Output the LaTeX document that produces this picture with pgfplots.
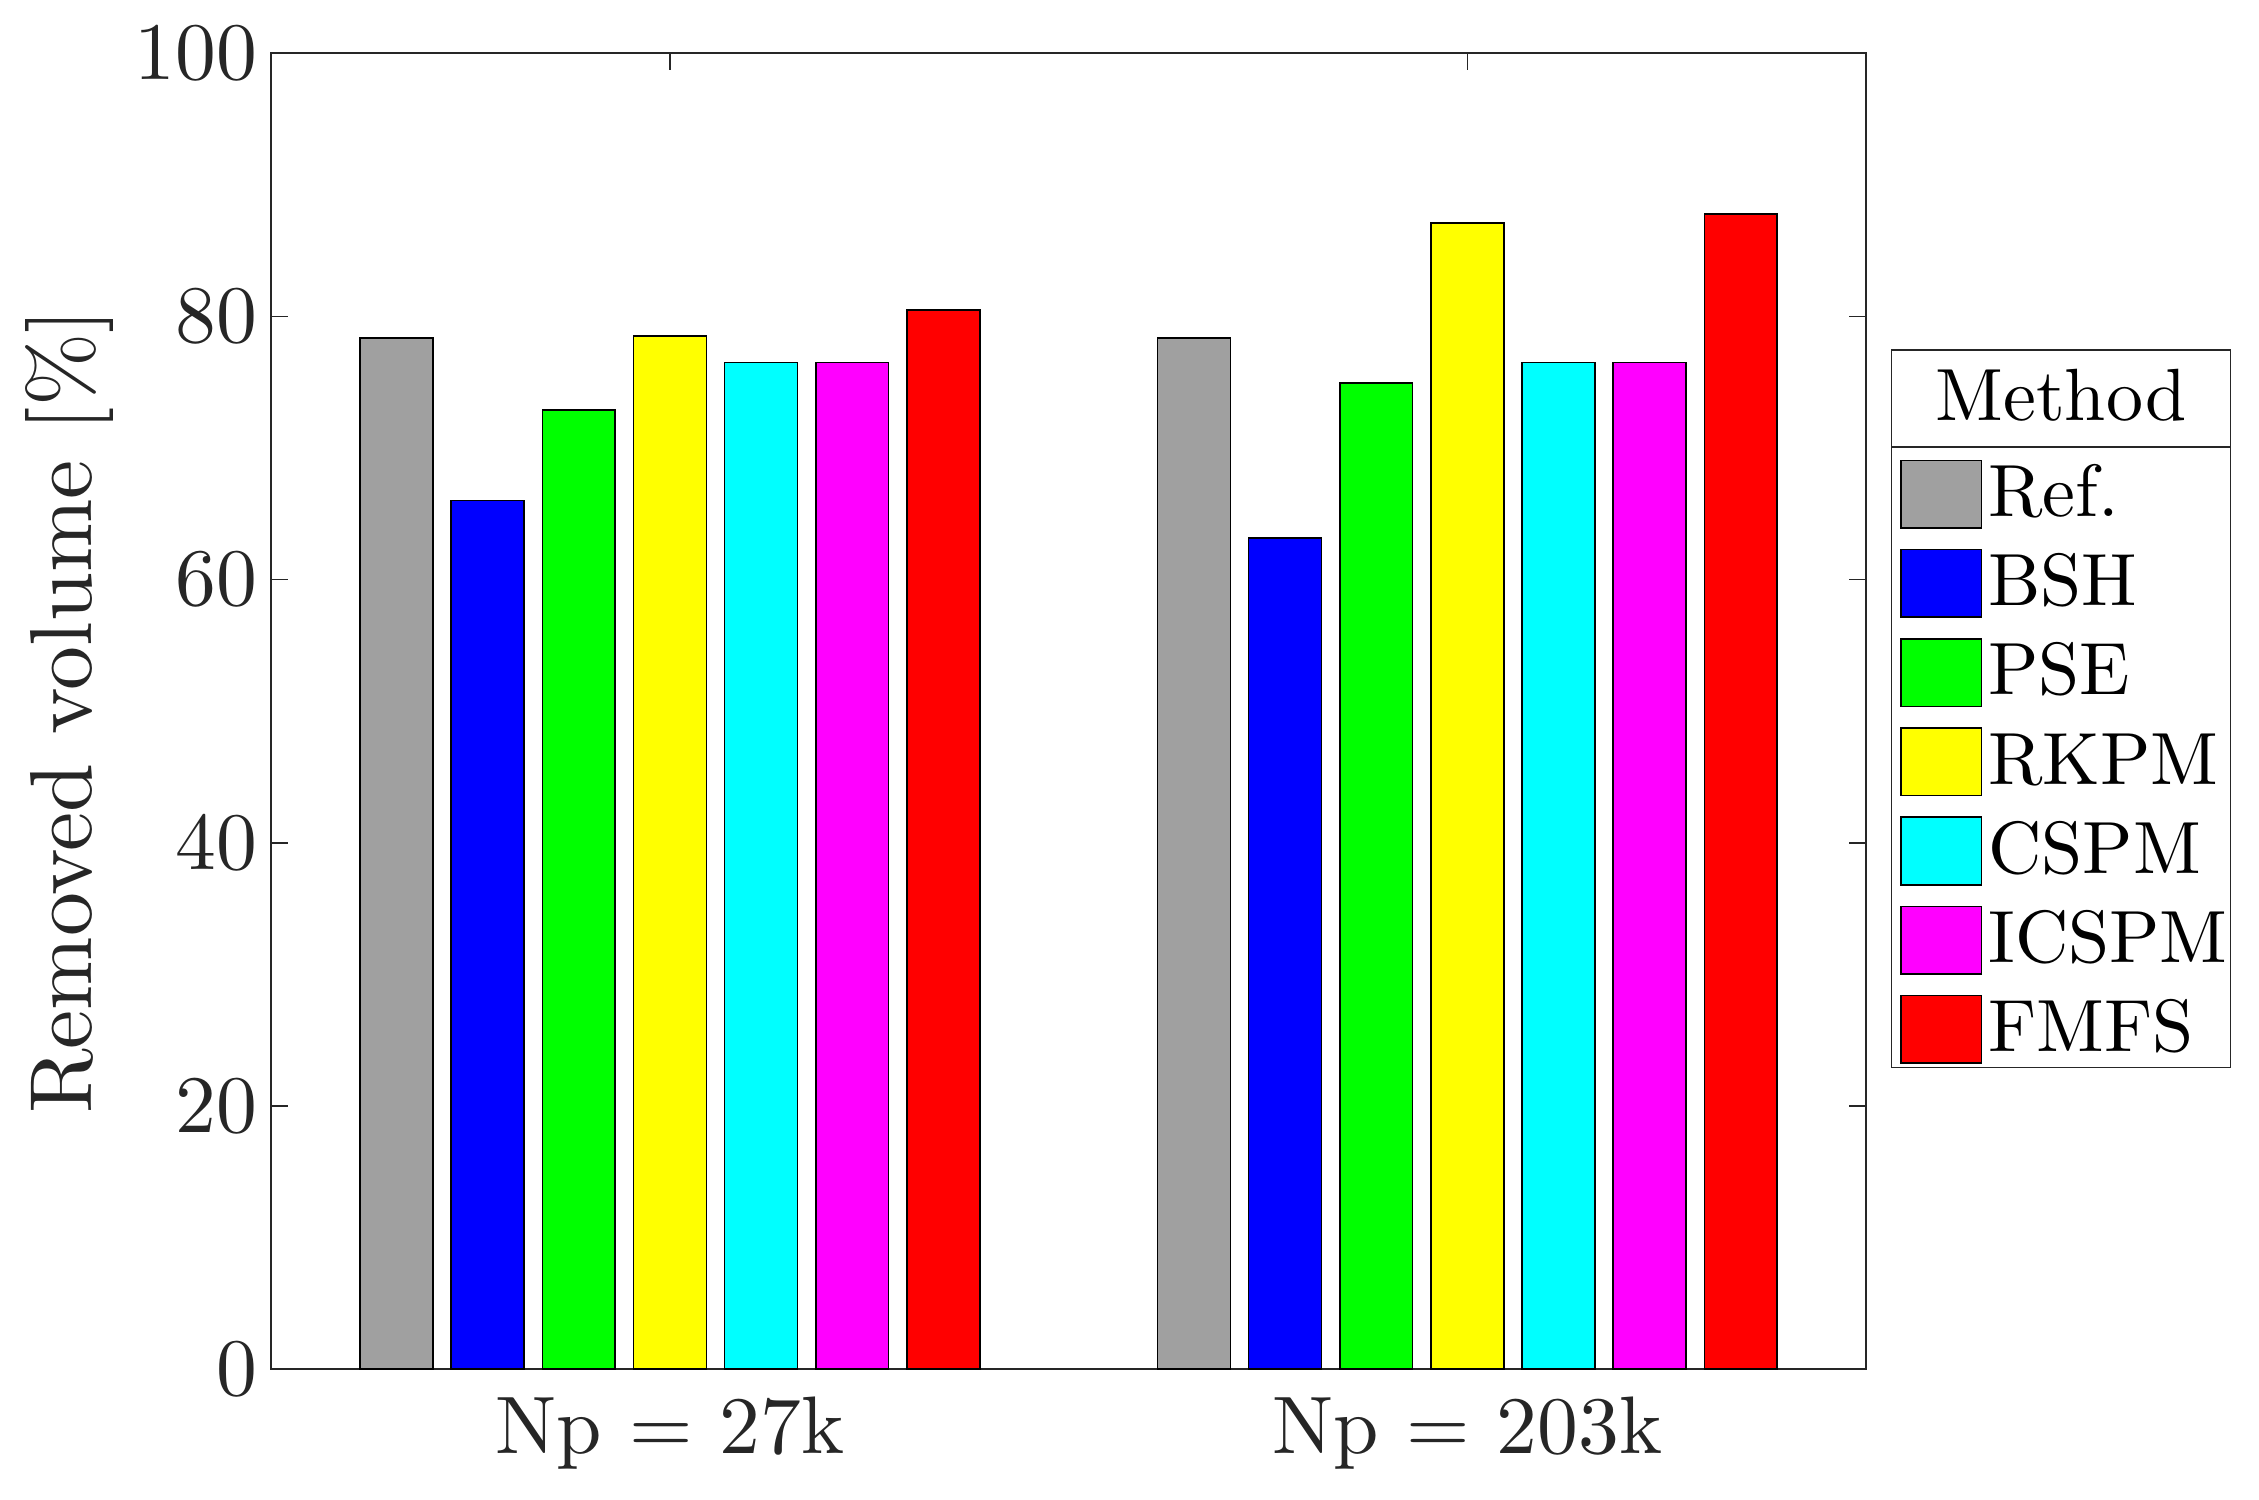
\documentclass[border=0pt]{standalone}
\usepackage{pgfplots}
\pgfplotsset{compat=1.18}
\font\tickfont=cmr10 at 20.4pt
\font\labfont=cmr10 at 22pt
\font\legfont=cmr10 at 18.5pt
\definecolor{axgray}{RGB}{38,38,38}
\definecolor{refgray}{RGB}{160,160,160}
\definecolor{mblue}{RGB}{0,0,255}
\definecolor{mgreen}{RGB}{0,255,0}
\definecolor{myellow}{RGB}{255,255,0}
\definecolor{mcyan}{RGB}{0,255,255}
\definecolor{mmagenta}{RGB}{255,0,255}
\definecolor{mred}{RGB}{255,0,0}
\pgfplotsset{mybar/.style={ybar, bar width=0.0914, draw=black, line width=0.4pt,
  legend image code/.code={\draw[##1,line width=0.4pt] (0pt,-8.45pt) rectangle (20.2pt,8.45pt);}}}
\begin{document}
\begin{tikzpicture}
\begin{axis}[name=ax, scale only axis, width=398.7pt, height=329pt,
  xmin=0.5, xmax=2.5, ymin=0, ymax=100,
  xtick={1,2}, xticklabels={Np = 27k, Np = 203k},
  ytick={0,20,...,100},
  tick align=inside, major tick length=4.3pt,
  axis line style={axgray, line width=0.4pt},
  tick style={axgray, line width=0.4pt},
  ticklabel style={font=\tickfont, text=axgray},
  /pgf/number format/assume math mode=true,
  xticklabel style={yshift=-3.3pt},
  ylabel={Removed volume [\%]},
  ylabel style={at={(axis description cs:-0.1262,0.5)}, anchor=center, font=\labfont, text=axgray},
  legend cell align=left,
  legend style={at={(axis description cs:1.0213,0.6912)}, anchor=north west, draw=none, fill=none,
    inner sep=0pt, outer sep=0pt, row sep=5pt, column sep=1.5pt,
    font=\legfont, nodes={inner sep=0pt}},
  clip=false]
\addplot[mybar, fill=refgray, bar shift=-0.3429] coordinates {(1,78.35) (2,78.35)};
\addplot[mybar, fill=mblue, bar shift=-0.2286] coordinates {(1,66.0) (2,63.15)};
\addplot[mybar, fill=mgreen, bar shift=-0.1143] coordinates {(1,72.9) (2,74.95)};
\addplot[mybar, fill=myellow, bar shift=0] coordinates {(1,78.5) (2,87.1)};
\addplot[mybar, fill=mcyan, bar shift=0.1143] coordinates {(1,76.5) (2,76.5)};
\addplot[mybar, fill=mmagenta, bar shift=0.2286] coordinates {(1,76.5) (2,76.5)};
\addplot[mybar, fill=mred, bar shift=0.3429] coordinates {(1,80.5) (2,87.8)};
\legend{Ref., BSH, PSE, RKPM, CSPM, ICSPM, FMFS}
\end{axis}
\draw[axgray, line width=0.4pt] (405.1pt,75.4pt) rectangle (489.8pt,254.8pt);
\draw[axgray, line width=0.4pt] (405.1pt,230.6pt) -- (489.8pt,230.6pt);
\node[font=\legfont, inner sep=0pt] at (447.45pt,243.5pt) {Method};
\path (-67.8pt,-32.45pt) rectangle (496.95pt,342.3pt);
\end{tikzpicture}
\end{document}
